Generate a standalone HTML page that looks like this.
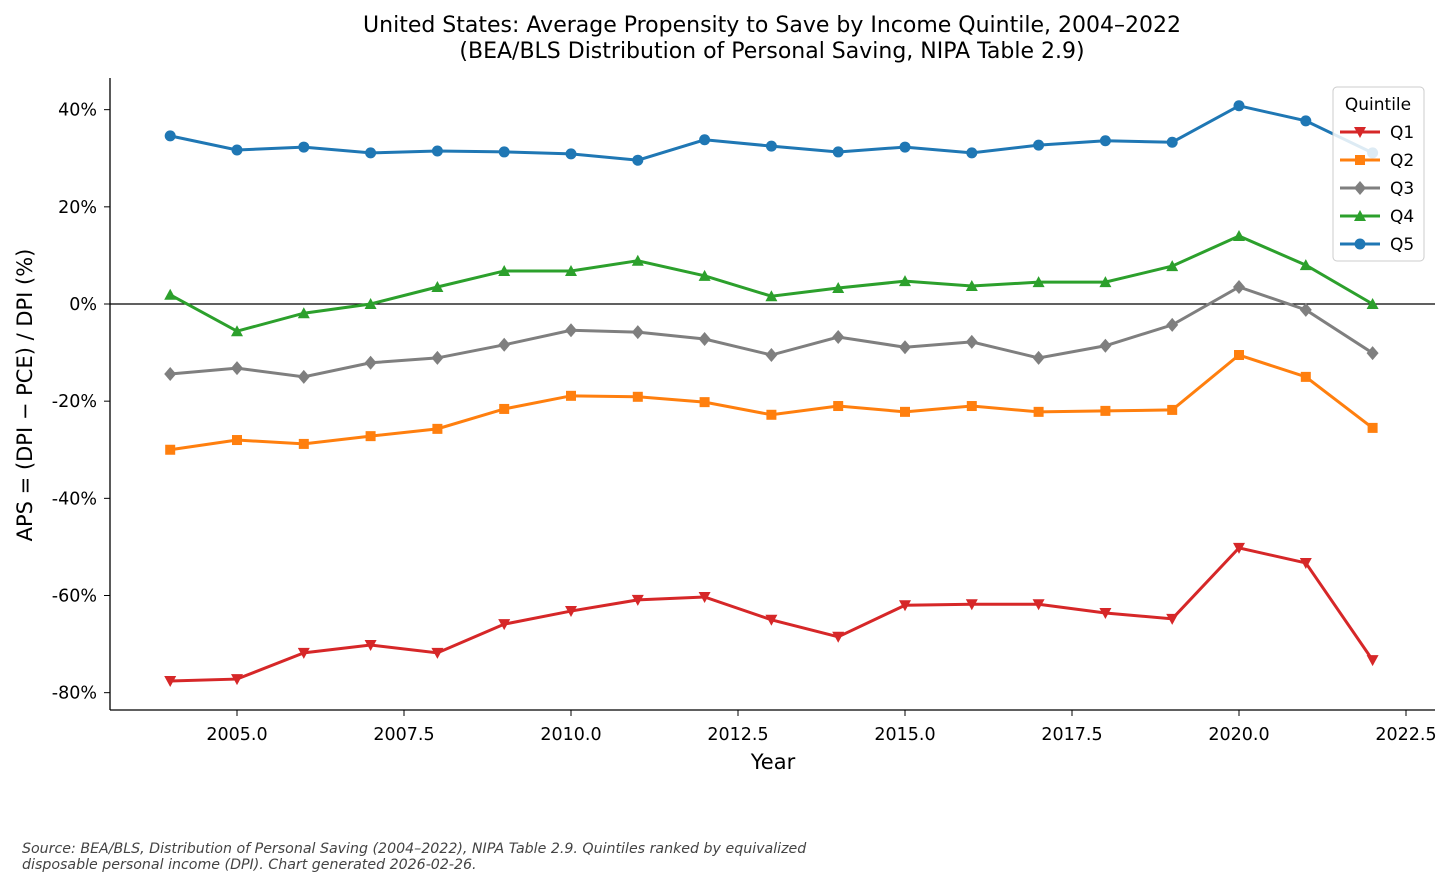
<!DOCTYPE html>
<html><head><meta charset="utf-8"><style>
body{margin:0;background:#fff;font-family:"DejaVu Sans","Liberation Sans",sans-serif}
</style></head><body>
<svg id="chart" width="1456" height="887" xmlns="http://www.w3.org/2000/svg" font-family="DejaVu Sans, Liberation Sans, sans-serif">
<rect width="1456" height="887" fill="#fff"/>
<text x="772" y="32" text-anchor="middle" font-size="22">United States: Average Propensity to Save by Income Quintile, 2004–2022</text>
<text x="772" y="58" text-anchor="middle" font-size="22">(BEA/BLS Distribution of Personal Saving, NIPA Table 2.9)</text>
<g id="axes"></g>
<g id="series"></g>
<text x="773" y="769" text-anchor="middle" font-size="21">Year</text>
<text transform="translate(32,395) rotate(-90)" text-anchor="middle" font-size="21">APS = (DPI − PCE) / DPI  (%)</text>
<text x="22" y="853" font-size="14.2" font-style="italic" fill="#444">Source: BEA/BLS, Distribution of Personal Saving (2004–2022), NIPA Table 2.9.  Quintiles ranked by equivalized</text>
<text x="22" y="869" font-size="14.2" font-style="italic" fill="#444">disposable personal income (DPI).  Chart generated 2026-02-26.</text>
<g id="legend"></g>
</svg>
<script>
const years=[2004,2005,2006,2007,2008,2009,2010,2011,2012,2013,2014,2015,2016,2017,2018,2019,2020,2021,2022];
const q1=[-77.6,-77.2,-71.8,-70.2,-71.8,-65.9,-63.2,-60.9,-60.3,-65,-68.5,-62,-61.8,-61.8,-63.6,-64.8,-50.2,-53.3,-73.3];
const q2=[-30,-28,-28.8,-27.2,-25.7,-21.6,-18.9,-19.1,-20.2,-22.8,-21,-22.2,-21,-22.2,-22,-21.8,-10.5,-15,-25.5];
const q3=[-14.4,-13.2,-15,-12.1,-11.1,-8.4,-5.4,-5.8,-7.2,-10.5,-6.8,-8.9,-7.8,-11.1,-8.6,-4.3,3.5,-1.2,-10.1];
const q4=[1.9,-5.6,-1.9,0,3.5,6.8,6.8,8.9,5.8,1.6,3.3,4.7,3.7,4.5,4.5,7.8,14,8,0];
const q5=[34.6,31.7,32.3,31.1,31.5,31.3,30.9,29.6,33.8,32.5,31.3,32.3,31.1,32.7,33.6,33.3,40.8,37.7,31.1];
const xTicks=[2005,2007.5,2010,2012.5,2015,2017.5,2020,2022.5];
const yTicks=[40,20,0,-20,-40,-60,-80];
const NS="http://www.w3.org/2000/svg";
const X=v=>237+(v-2005)*(1169/17.5);
const Y=v=>304-v*(583/120);
function mk(tag,attrs,parent){const e=document.createElementNS(NS,tag);for(const k in attrs)e.setAttribute(k,attrs[k]);parent.appendChild(e);return e;}
const ax=document.getElementById('axes');
let e=mk('line',{x1:110,y1:78,x2:110,y2:710,stroke:'#000','stroke-width':1.3},ax);


e=mk('line',{x1:110,y1:710,x2:1435,y2:710,stroke:'#000','stroke-width':1.3},ax);


e=mk('line',{x1:110,y1:Y(0),x2:1435,y2:Y(0),stroke:'#000','stroke-width':1.3},ax);


xTicks.forEach(t=>{mk('line',{x1:X(t),x2:X(t),y1:710,y2:716,stroke:'#000'},ax);
 const tx=mk('text',{x:X(t),y:740,'text-anchor':'middle','font-size':17.5},ax);tx.textContent=t.toFixed(1);
 
 });
yTicks.forEach(t=>{mk('line',{x1:104,x2:110,y1:Y(t),y2:Y(t),stroke:'#000'},ax);
 const tx=mk('text',{x:97,y:Y(t)+6,'text-anchor':'end','font-size':17.5},ax);tx.textContent=t+'%';
 
 });
function marker(type,x,y,c,p){
 if(type==='v')return mk('polygon',{points:`${x-6},${y-5} ${x+6},${y-5} ${x},${y+6}`,fill:c},p);
 if(type==='s')return mk('rect',{x:x-5,y:y-5,width:10,height:10,fill:c},p);
 if(type==='d')return mk('polygon',{points:`${x},${y-7} ${x+6},${y} ${x},${y+7} ${x-6},${y}`,fill:c},p);
 if(type==='^')return mk('polygon',{points:`${x-6},${y+5} ${x+6},${y+5} ${x},${y-6}`,fill:c},p);
 return mk('circle',{cx:x,cy:y,r:5.5,fill:c},p);}
const sers=[['Q1',q1,'#d62728','v'],['Q2',q2,'#ff7f0e','s'],['Q3',q3,'#7f7f7f','d'],['Q4',q4,'#2ca02c','^'],['Q5',q5,'#1f77b4','o']];
const sg=document.getElementById('series');
sers.forEach(([n,vals,c,m])=>{const g=mk('g',{},sg);
 
 
 mk('polyline',{points:vals.map((v,i)=>X(years[i])+','+Y(v)).join(' '),fill:'none',stroke:c,'stroke-width':3},g);
 vals.forEach((v,i)=>{const p=marker(m,X(years[i]),Y(v),c,g);
  
  });});
const lg=document.getElementById('legend');


mk('rect',{x:1333,y:87,width:91,height:174,rx:4,fill:'#fff','fill-opacity':0.85,stroke:'#ccc'},lg);
const lt=mk('text',{x:1378,y:110,'text-anchor':'middle','font-size':17},lg);lt.textContent='Quintile';
sers.forEach(([n,v,c,m],i)=>{const y=132+i*28;const g=mk('g',{},lg);
 
 
 mk('line',{x1:1340,x2:1380,y1:y,y2:y,stroke:c,'stroke-width':3},g);
 marker(m,1360,y,c,g);
 const t=mk('text',{x:1390,y:y+6,'font-size':17},g);t.textContent=n;});
</script>
</body></html>
